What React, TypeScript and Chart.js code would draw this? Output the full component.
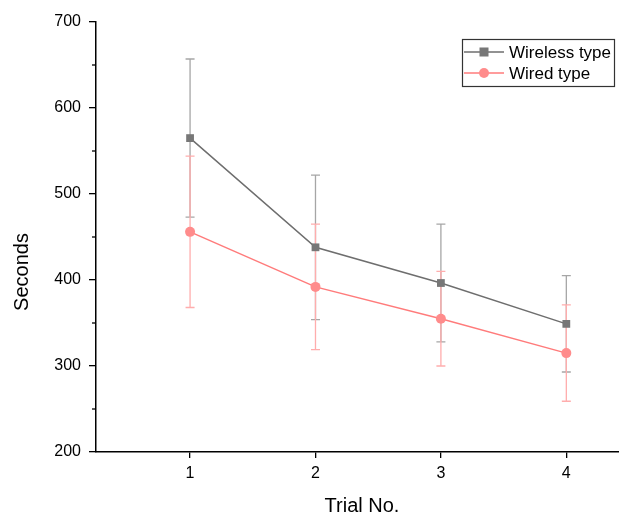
import React, { useEffect, useRef } from "react";
import { Chart, registerables } from "chart.js";

Chart.register(...registerables);

const trials = [1, 2, 3, 4];
const wirelessMean = [565, 438, 396.5, 349];
const wirelessErr = [92, 84, 68.5, 56];
const wiredMean = [456, 392, 355, 315];
const wiredErr = [88, 73, 55, 56];
const yTicks = [200, 300, 400, 500, 600, 700];
const yMinorTicks = [250, 350, 450, 550, 650];
const seriesNames = ["Wireless type", "Wired type"];
const xTitle = "Trial No.";
const yTitle = "Seconds";

const X_MIN = 0.25;
const X_MAX = 4.42;

const FONT = '"Liberation Sans", Arial, sans-serif';
const GREY_LINE = "#6e6e6e";
const GREY_MARK = "#777777";
const GREY_ERR = "#a6a6a6";
const PINK_LINE = "#ff7b7b";
const PINK_MARK = "#ff8c8c";
const PINK_ERR = "#ffadad";

const errorBarPlugin = {
  id: "errorBars",
  beforeDatasetsDraw(chart: any) {
    const ctx = chart.ctx;
    const xs = chart.scales.x;
    const ys = chart.scales.y;
    const sets = [
      { mean: wirelessMean, err: wirelessErr, color: GREY_ERR },
      { mean: wiredMean, err: wiredErr, color: PINK_ERR },
    ];
    ctx.save();
    sets.forEach((s) => {
      ctx.strokeStyle = s.color;
      ctx.lineWidth = 1.3;
      trials.forEach((t, i) => {
        const x = xs.getPixelForValue(t);
        const yt = ys.getPixelForValue(s.mean[i] + s.err[i]);
        const yb = ys.getPixelForValue(s.mean[i] - s.err[i]);
        ctx.beginPath();
        ctx.moveTo(x, yt);
        ctx.lineTo(x, yb);
        ctx.moveTo(x - 4.5, yt);
        ctx.lineTo(x + 4.5, yt);
        ctx.moveTo(x - 4.5, yb);
        ctx.lineTo(x + 4.5, yb);
        ctx.stroke();
      });
    });
    ctx.restore();
  },
  afterDraw(chart: any) {
    const ctx = chart.ctx;
    const ys = chart.scales.y;
    const left = chart.chartArea.left;
    ctx.save();
    ctx.strokeStyle = "#000";
    ctx.lineWidth = 1.3;
    yMinorTicks.forEach((v) => {
      const y = ys.getPixelForValue(v);
      ctx.beginPath();
      ctx.moveTo(left - 4, y);
      ctx.lineTo(left, y);
      ctx.stroke();
    });
    ctx.fillStyle = "#000";
    ctx.font = `20px ${FONT}`;
    ctx.textAlign = "center";
    ctx.textBaseline = "middle";
    ctx.fillText(xTitle, 362, 506);
    ctx.save();
    ctx.translate(22, 272);
    ctx.rotate(-Math.PI / 2);
    ctx.fillText(yTitle, 0, 0);
    ctx.restore();
    ctx.strokeStyle = "#333";
    ctx.lineWidth = 1.2;
    ctx.strokeRect(462.5, 39.5, 152, 47);
    const rows = [
      { y: 52, line: GREY_LINE, mark: GREY_MARK, sq: true },
      { y: 73, line: PINK_LINE, mark: PINK_MARK, sq: false },
    ];
    rows.forEach((r, i) => {
      ctx.strokeStyle = r.line;
      ctx.lineWidth = 1.5;
      ctx.beginPath();
      ctx.moveTo(464, r.y);
      ctx.lineTo(504, r.y);
      ctx.stroke();
      ctx.fillStyle = r.mark;
      if (r.sq) {
        ctx.fillRect(479.5, r.y - 4.5, 9, 9);
      } else {
        ctx.beginPath();
        ctx.arc(484, r.y, 5, 0, Math.PI * 2);
        ctx.fill();
      }
      ctx.fillStyle = "#000";
      ctx.font = `17px ${FONT}`;
      ctx.textAlign = "left";
      ctx.textBaseline = "middle";
      ctx.fillText(seriesNames[i], 509, r.y + 1);
    });
    ctx.restore();
  },
};

export default function App() {
  const ref = useRef<HTMLCanvasElement>(null);
  useEffect(() => {
    if (!ref.current) return;
    const chart = new Chart(ref.current, {
      type: "line",
      data: {
        datasets: [
          {
            label: seriesNames[0],
            data: trials.map((t, i) => ({ x: t, y: wirelessMean[i] })),
            borderColor: GREY_LINE,
            backgroundColor: GREY_MARK,
            pointBackgroundColor: GREY_MARK,
            pointBorderColor: GREY_MARK,
            pointStyle: "rect",
            pointRadius: 5.5,
            pointBorderWidth: 0,
            borderWidth: 1.5,
          },
          {
            label: seriesNames[1],
            data: trials.map((t, i) => ({ x: t, y: wiredMean[i] })),
            borderColor: PINK_LINE,
            backgroundColor: PINK_MARK,
            pointBackgroundColor: PINK_MARK,
            pointBorderColor: PINK_MARK,
            pointStyle: "circle",
            pointRadius: 5,
            pointBorderWidth: 0,
            borderWidth: 1.5,
          },
        ],
      },
      options: {
        animation: false,
        responsive: false,
        layout: { autoPadding: false, padding: { top: 22, right: 0, left: 0, bottom: 0 } },
        plugins: { legend: { display: false }, tooltip: { enabled: false } },
        scales: {
          x: {
            type: "linear",
            min: X_MIN,
            max: X_MAX,
            afterBuildTicks: (s: any) => {
              s.ticks = trials.map((v) => ({ value: v }));
            },
            afterFit: (s: any) => {
              s.height = 65;
              s.paddingRight = 0;
              s.paddingLeft = 0;
            },
            grid: {
              display: true,
              drawOnChartArea: false,
              drawTicks: true,
              tickLength: 6,
              color: "#000",
              lineWidth: 1.3,
            },
            border: { display: true, color: "#000", width: 1.5 },
            ticks: {
              color: "#000",
              font: { family: FONT, size: 16 },
              padding: 6,
              maxRotation: 0,
              autoSkip: false,
              callback: (v: any) => String(v),
            },
          },
          y: {
            type: "linear",
            min: 200,
            max: 700,
            afterBuildTicks: (s: any) => {
              s.ticks = yTicks.map((v) => ({ value: v }));
            },
            afterFit: (s: any) => {
              s.width = 96;
            },
            grid: {
              display: true,
              drawOnChartArea: false,
              drawTicks: true,
              tickLength: 7,
              color: "#000",
              lineWidth: 1.3,
            },
            border: { display: true, color: "#000", width: 1.5 },
            ticks: {
              color: "#000",
              font: { family: FONT, size: 16 },
              padding: 8,
              callback: (v: any) => String(v),
            },
          },
        },
      },
      plugins: [errorBarPlugin],
    } as any);
    return () => chart.destroy();
  }, []);
  return (
    <div style={{ position: "fixed", left: 0, top: 0, width: 619, height: 517, background: "#fff" }}>
      <canvas ref={ref} width={619} height={517} style={{ width: 619, height: 517, display: "block" }} />
    </div>
  );
}
